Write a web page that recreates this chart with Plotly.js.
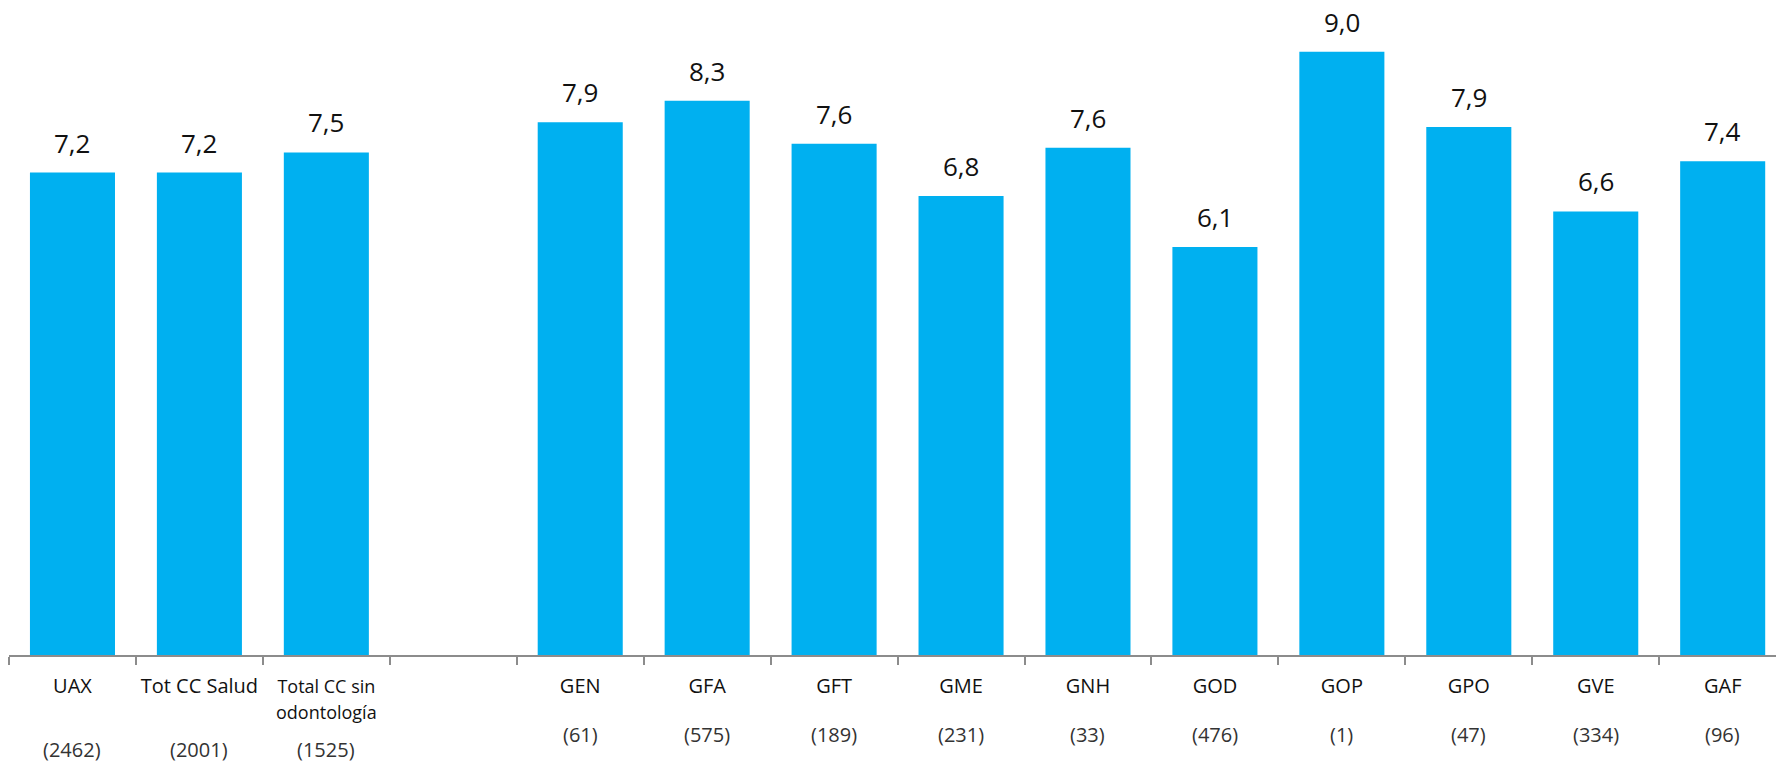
<!DOCTYPE html>
<html>
<head>
<meta charset="utf-8">
<script src="https://cdn.plot.ly/plotly-3.0.1.min.js"></script>
<style>html,body{margin:0;padding:0;background:#fff;}#chart{width:1776px;height:764px;}</style>
</head>
<body>
<div id="chart"></div>
<script>
// Data
const categories = ["UAX", "Tot CC Salud", "Total CC sin<br>odontología", " ", "GEN", "GFA", "GFT", "GME", "GNH", "GOD", "GOP", "GPO", "GVE", "GAF"];
const values = [7.19, 7.19, 7.49, null, 7.94, 8.26, 7.62, 6.84, 7.56, 6.08, 8.99, 7.87, 6.61, 7.36];
const counts = ["(2462)", "(2001)", "(1525)", "", "(61)", "(575)", "(189)", "(231)", "(33)", "(476)", "(1)", "(47)", "(334)", "(96)"];
const firstGroupSize = 3;

const barColor = "#00B0F0";

const tickText = categories.map(c => c.indexOf("<br>") >= 0 ? "<span style=\"font-size:18px\">" + c + "</span>" : c);

const trace = {
  type: "bar",
  x: categories,
  y: values,
  marker: {color: barColor},
  hoverinfo: "skip",
  cliponaxis: false
};

const annotations = [];
categories.forEach((c, i) => {
  if (values[i] !== null) {
    annotations.push({
      x: c, y: values[i], xref: "x", yref: "y",
      text: values[i].toFixed(1).replace(".", ","),
      showarrow: false, yanchor: "bottom", yshift: 10,
      font: {family: "Open Sans, sans-serif", size: 26, color: "#111"}
    });
  }
  if (counts[i]) {
    const low = i < firstGroupSize;
    annotations.push({
      x: c, y: low ? -0.1665 : -0.121, xref: "x", yref: "paper",
      text: counts[i], showarrow: false, yanchor: low ? "bottom" : "middle",
      borderpad: 0,
      font: {family: "Open Sans, sans-serif", size: 20, color: "#333"}
    });
  }
});

const layout = {
  width: 1776, height: 764,
  margin: {l: 9, r: 0, t: 0, b: 109},
  paper_bgcolor: "#fff", plot_bgcolor: "#fff",
  separators: ",.",
  bargap: 0.33,
  showlegend: false,
  xaxis: {
    type: "category",
    range: [-0.5, 13.42],
    tickson: "boundaries",
    tickvals: categories,
    ticktext: tickText,
    tickangle: 0,
    ticks: "outside", ticklen: 8, tickwidth: 2, tickcolor: "#8c8c8c",
    ticklabelstandoff: 12,
    showline: true, linecolor: "#8c8c8c", linewidth: 2,
    showgrid: false, zeroline: false,
    tickfont: {family: "Open Sans, sans-serif", size: 20, color: "#111"},
    automargin: false
  },
  yaxis: {
    range: [0, 9.762],
    visible: false,
    showgrid: false, zeroline: false
  },
  annotations: annotations
};

Plotly.newPlot("chart", [trace], layout, {staticPlot: true});
</script>
</body>
</html>
